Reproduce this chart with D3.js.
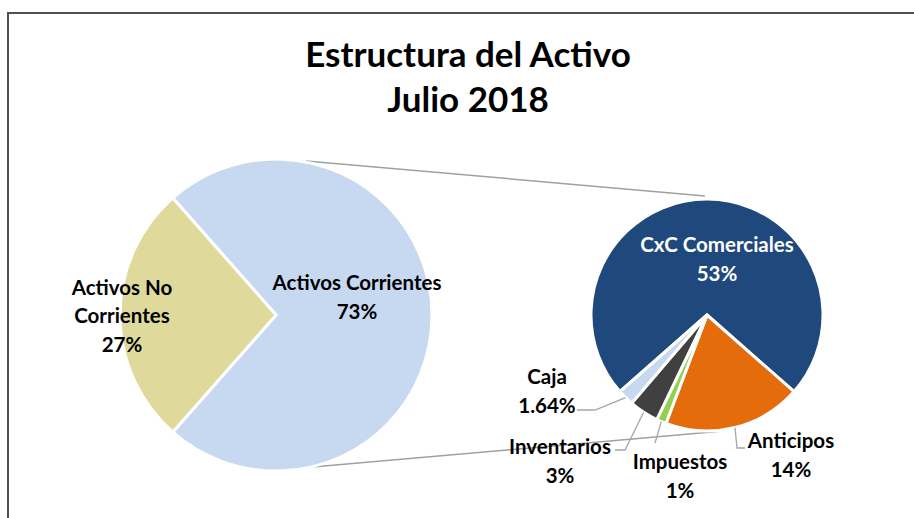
<!DOCTYPE html>
<html>
<head>
<meta charset="utf-8">
<script src="https://cdn.jsdelivr.net/npm/d3@7"></script>
<style>
  html, body { margin: 0; padding: 0; background: #ffffff; }
  svg { display: block; }
  text { font-family: Lato, "Open Sans", sans-serif; font-weight: 700; }
</style>
</head>
<body>
<svg id="chart" width="914" height="518"></svg>
<script>
// ---------- DATA ----------
const titleLines = ["Estructura del Activo", "Julio 2018"];

const mainCategories = ["Activos Corrientes", "Activos No Corrientes"];
const mainLabelLines = [["Activos Corrientes"], ["Activos No", "Corrientes"]];
const mainValues = [73, 27];

const subCategories = ["CxC Comerciales", "Anticipos", "Impuestos", "Inventarios", "Caja"];
const subValues = [53, 14, 1, 3, 1.64];

// ---------- STYLE / LAYOUT ----------
const W = 914, H = 518;
const mainColors = ["#c6d9f0", "#dfda9b"];
const subColors = ["#1f497d", "#e46c0a", "#92d050", "#404040", "#c6d9f0"];
const subTextColors = ["#ffffff", "#000000", "#000000", "#000000", "#000000"];
const lineGray = "#a6a6a6";

const mainC = { x: 276, y: 315, r: 156 };
const subC = { x: 707, y: 315, r: 116 };

const fmtPct = v => Number.isInteger(v) ? v + "%" : v.toFixed(2) + "%";

const svg = d3.select("#chart");

// frame
svg.append("path")
  .attr("d", `M8,${H} L8,13 L${W},13`)
  .attr("fill", "none").attr("stroke", "#505050").attr("stroke-width", 2);

// title
const title = svg.append("text").attr("text-anchor", "middle").attr("font-size", 35).attr("fill", "#000");
title.selectAll("tspan").data(titleLines).join("tspan")
  .attr("x", 468).attr("y", (d, i) => 67 + i * 45).text(d => d);

const deg = Math.PI / 180;
const polar = (c, angDeg, r) => [c.x + r * Math.sin(angDeg * deg), c.y - r * Math.cos(angDeg * deg)];

// ---------- connector lines (drawn beneath) ----------
const connectors = [
  { from: [11, 1], to: [-1, 3] },
  { from: [167.6, 0], to: [173.6, 1] }
];
svg.append("g").selectAll("line").data(connectors).join("line")
  .attr("x1", d => polar(mainC, d.from[0], mainC.r + d.from[1])[0])
  .attr("y1", d => polar(mainC, d.from[0], mainC.r + d.from[1])[1])
  .attr("x2", d => polar(subC, d.to[0], subC.r + d.to[1])[0])
  .attr("y2", d => polar(subC, d.to[0], subC.r + d.to[1])[1])
  .attr("stroke", "#a0a0a0").attr("stroke-width", 1.5);

// ---------- main pie ----------
const mainTotal = d3.sum(mainValues);
const mainStart = Math.PI / 2 - (mainValues[0] / mainTotal) * Math.PI;
const mainPie = d3.pie().sort(null).startAngle(mainStart).endAngle(mainStart + 2 * Math.PI)(mainValues);
const mainArc = d3.arc().innerRadius(0).outerRadius(mainC.r);

const gMain = svg.append("g").attr("transform", `translate(${mainC.x},${mainC.y})`);
gMain.selectAll("path").data(mainPie).join("path")
  .attr("d", mainArc)
  .attr("fill", (d, i) => mainColors[i])
  .attr("stroke", "#ffffff").attr("stroke-width", 3).attr("stroke-linejoin", "round");

const mainLabelOffsets = [[3, -17.5], [-76, 1]];
const mainLabels = gMain.selectAll("text.lbl").data(mainPie).join("text")
  .attr("class", "lbl").attr("text-anchor", "middle").attr("font-size", 20.5).attr("fill", "#000");
mainLabels.each(function (d, i) {
  const c = mainArc.centroid(d);
  const cx = c[0] + mainLabelOffsets[i][0];
  const cy = c[1] + mainLabelOffsets[i][1];
  const lines = mainLabelLines[i].concat([fmtPct(mainValues[i])]);
  const lh = 28.5;
  d3.select(this).selectAll("tspan").data(lines).join("tspan")
    .attr("x", cx)
    .attr("y", (t, k) => cy + (k - (lines.length - 1) / 2) * lh)
    .attr("dy", "0.35em")
    .text(t => t);
});

// ---------- sub pie ----------
const subTotal = d3.sum(subValues);
const subStart = -(subValues[0] / subTotal) * Math.PI;
const subPie = d3.pie().sort(null).startAngle(subStart).endAngle(subStart + 2 * Math.PI)(subValues);
const subArc = d3.arc().innerRadius(0).outerRadius(subC.r);

const gSub = svg.append("g").attr("transform", `translate(${subC.x},${subC.y})`);
gSub.selectAll("path").data(subPie).join("path")
  .attr("d", subArc)
  .attr("fill", (d, i) => subColors[i])
  .attr("stroke", "#ffffff").attr("stroke-width", 3).attr("stroke-linejoin", "round");

// label layout relative to sub pie centre: text centre of first line, leader elbow, leader end
const subLabelLayout = [
  { text: [10, -70], inside: true },
  { text: [84, 126], elbow: [30, 133], end: [38, 133] },
  { text: [-27, 147], elbow: [-52, 128], end: [-52, 128] },
  { text: [-147, 132], elbow: [-82, 135], end: [-92, 135] },
  { text: [-160, 62], elbow: [-112, 95], end: [-130, 95] }
];

subPie.forEach((d, i) => {
  const L = subLabelLayout[i];
  if (!L.inside) {
    const mid = (d.startAngle + d.endAngle) / 2;
    const sx = subC.r * Math.sin(mid), sy = -subC.r * Math.cos(mid);
    gSub.append("polyline")
      .attr("points", [[sx, sy], L.elbow, L.end].map(p => p.join(",")).join(" "))
      .attr("fill", "none").attr("stroke", lineGray).attr("stroke-width", 1.3);
  }
  const lines = [subCategories[i], fmtPct(subValues[i])];
  gSub.append("text").attr("text-anchor", "middle").attr("font-size", 20.5)
    .attr("fill", subTextColors[i])
    .selectAll("tspan").data(lines).join("tspan")
    .attr("x", L.text[0])
    .attr("y", (t, k) => L.text[1] + k * 28.5)
    .attr("dy", "0.35em")
    .text(t => t);
});
</script>
</body>
</html>
